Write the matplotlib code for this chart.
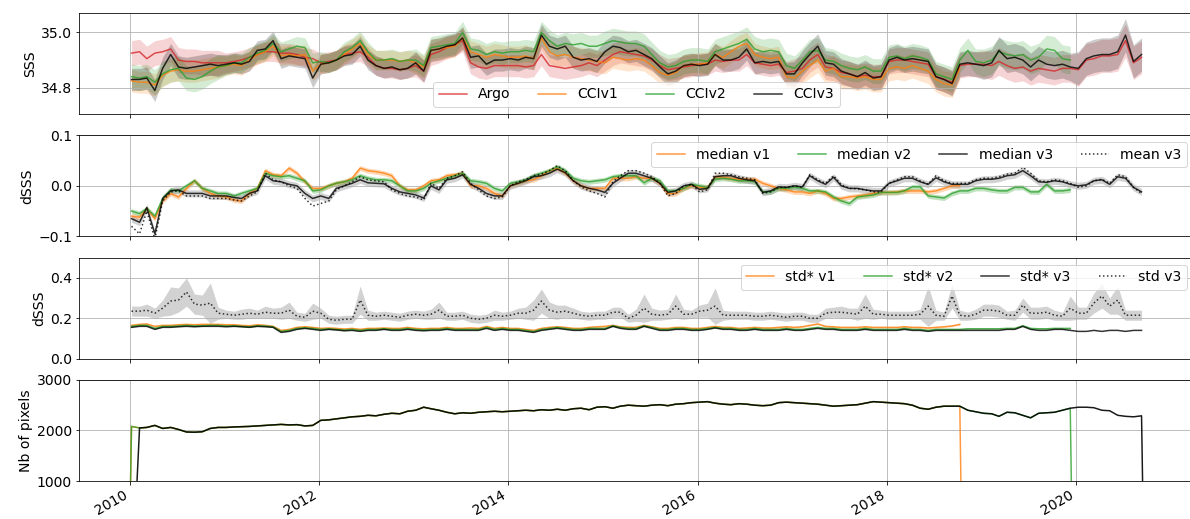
import numpy as np
import pandas as pd
import matplotlib
matplotlib.use("Agg")
from matplotlib import pyplot as plt
import matplotlib.dates as mdates


# monthly sampling, Jan 2010 -> Sep 2020
dates = pd.date_range("2010-01-01", periods=129, freq="MS") + pd.Timedelta(days=7)

# ---- SSS (one row per year) ----
sss_argo = [
    34.925, 34.93, 34.905, 34.925, 34.93, 34.94, 34.9, 34.895, 34.895, 34.89, 34.89, 34.89,
    34.89, 34.895, 34.9, 34.91, 34.92, 34.93, 34.93, 34.925, 34.925, 34.92, 34.91, 34.905,
    34.89, 34.895, 34.9, 34.92, 34.925, 34.93, 34.91, 34.88, 34.87, 34.87, 34.865, 34.87,
    34.88, 34.86, 34.92, 34.93, 34.945, 34.955, 34.97, 34.89, 34.875, 34.87, 34.88, 34.88,
    34.88, 34.88, 34.875, 34.88, 34.92, 34.88, 34.875, 34.87, 34.875, 34.88, 34.89, 34.88,
    34.9, 34.92, 34.93, 34.925, 34.92, 34.915, 34.9, 34.88, 34.865, 34.87, 34.875, 34.88,
    34.885, 34.885, 34.9, 34.895, 34.9, 34.9, 34.92, 34.89, 34.885, 34.88, 34.885, 34.855,
    34.86, 34.87, 34.9, 34.92, 34.875, 34.87, 34.855, 34.85, 34.84, 34.845, 34.84, 34.84,
    34.895, 34.9, 34.9, 34.895, 34.89, 34.885, 34.84, 34.83, 34.82, 34.88, 34.885, 34.885,
    34.885, 34.88, 34.895, 34.88, 34.87, 34.875, 34.86, 34.87, 34.865, 34.86, 34.87, 34.87,
    34.865, 34.9, 34.905, 34.915, 34.915, 34.92, 34.97, 34.89, 34.91,
]
sss_v1 = [
    34.825, 34.82, 34.82, 34.81, 34.845, 34.86, 34.865, 34.86, 34.86, 34.865, 34.87, 34.875,
    34.88, 34.885, 34.88, 34.9, 34.92, 34.93, 34.95, 34.915, 34.92, 34.915, 34.92, 34.86,
    34.885, 34.89, 34.9, 34.92, 34.94, 34.96, 34.92, 34.9, 34.9, 34.9, 34.895, 34.9,
    34.89, 34.875, 34.935, 34.94, 34.945, 34.95, 34.98, 34.93, 34.92, 34.91, 34.92, 34.915,
    34.91, 34.91, 34.915, 34.905, 34.98, 34.93, 34.915, 34.92, 34.91, 34.905, 34.9, 34.895,
    34.89, 34.91, 34.905, 34.9, 34.905, 34.9, 34.88, 34.855, 34.845, 34.855, 34.88, 34.885,
    34.885, 34.89, 34.92, 34.91, 34.93, 34.95, 34.96, 34.92, 34.91, 34.905, 34.91, 34.84,
    34.835, 34.86, 34.88, 34.9, 34.86, 34.87, 34.84, 34.84, 34.835, 34.84, 34.83, 34.83,
    34.87, 34.875, 34.87, 34.88, 34.87, 34.86, 34.83, 34.815, 34.81, 34.87,
]
sss_v2 = [
    34.84, 34.835, 34.84, 34.82, 34.85, 34.865, 34.87, 34.835, 34.83, 34.84, 34.86, 34.875,
    34.88, 34.89, 34.89, 34.91, 34.925, 34.935, 34.96, 34.93, 34.94, 34.95, 34.945, 34.89,
    34.895, 34.89, 34.9, 34.93, 34.945, 34.97, 34.93, 34.9, 34.9, 34.905, 34.895, 34.9,
    34.9, 34.88, 34.945, 34.95, 34.955, 34.96, 35.0, 34.94, 34.935, 34.92, 34.93, 34.925,
    34.93, 34.93, 34.935, 34.93, 35.0, 34.97, 34.95, 34.96, 34.955, 34.96, 34.95, 34.95,
    34.96, 34.97, 34.965, 34.96, 34.96, 34.95, 34.92, 34.89, 34.875, 34.88, 34.895, 34.9,
    34.9, 34.895, 34.93, 34.94, 34.95, 34.96, 34.975, 34.94, 34.93, 34.935, 34.93, 34.88,
    34.87, 34.9, 34.93, 34.935, 34.9, 34.895, 34.88, 34.87, 34.865, 34.875, 34.86, 34.86,
    34.91, 34.915, 34.905, 34.915, 34.91, 34.9, 34.85, 34.84, 34.83, 34.9, 34.935, 34.895,
    34.89, 34.9, 34.93, 34.92, 34.915, 34.92, 34.9, 34.91, 34.94, 34.935, 34.905, 34.9,
]
sss_v3 = [
    34.83, 34.83, 34.835, 34.79, 34.87, 34.92, 34.875, 34.87, 34.875, 34.88, 34.885, 34.88,
    34.885, 34.89, 34.885, 34.895, 34.935, 34.94, 34.97, 34.905, 34.915, 34.91, 34.905, 34.835,
    34.885, 34.89, 34.9, 34.915, 34.92, 34.95, 34.9, 34.88, 34.87, 34.875, 34.865, 34.87,
    34.89, 34.86, 34.935, 34.94, 34.95, 34.955, 34.98, 34.91, 34.915, 34.885, 34.9, 34.9,
    34.905, 34.9, 34.91, 34.905, 34.99, 34.95, 34.94, 34.95, 34.91, 34.9, 34.905, 34.895,
    34.93, 34.95, 34.945, 34.93, 34.935, 34.92, 34.905, 34.875, 34.85, 34.86, 34.88, 34.885,
    34.88, 34.885, 34.92, 34.9, 34.9, 34.91, 34.94, 34.89, 34.895, 34.89, 34.895, 34.85,
    34.85, 34.89, 34.92, 34.95, 34.89, 34.885, 34.86, 34.85, 34.84, 34.855, 34.835, 34.84,
    34.9, 34.91, 34.9, 34.905, 34.9, 34.895, 34.84, 34.83, 34.815, 34.885, 34.89, 34.885,
    34.88, 34.89, 34.935, 34.905, 34.91, 34.9, 34.875, 34.9, 34.885, 34.88, 34.885, 34.875,
    34.87, 34.905, 34.915, 34.92, 34.92, 34.93, 34.99, 34.895, 34.92,
]
# yearly spread of the SSS envelopes (2010, 2011, ...)
sss_spread_argo = [0.045, 0.035, 0.035, 0.04, 0.04, 0.04, 0.04, 0.045, 0.045, 0.05, 0.06]
sss_spread_v1 = [0.04, 0.035, 0.035, 0.04, 0.04, 0.04, 0.04, 0.045, 0.045]
sss_spread_v2 = [0.045, 0.035, 0.035, 0.04, 0.04, 0.045, 0.045, 0.045, 0.045, 0.05]
sss_spread_v3 = [0.04, 0.035, 0.035, 0.04, 0.04, 0.04, 0.04, 0.045, 0.045, 0.05, 0.06]

# ---- dSSS ----
med_v1 = [
    -0.06, -0.062, -0.045, -0.065, -0.03, -0.015, -0.022, -0.005, 0.01, -0.005, -0.015, -0.02,
    -0.022, -0.028, -0.03, -0.015, -0.005, 0.03, 0.022, 0.02, 0.035, 0.025, 0.008, -0.005,
    -0.005, 0.0, 0.005, 0.008, 0.015, 0.035, 0.03, 0.028, 0.025, 0.02, 0.0, -0.008,
    -0.008, 0.0, 0.01, 0.012, 0.02, 0.022, 0.025, 0.0, 0.0, -0.005, -0.015, -0.02,
    0.0, 0.005, 0.01, 0.012, 0.02, 0.03, 0.035, 0.025, 0.01, 0.0, -0.005, -0.005,
    -0.005, 0.015, 0.015, 0.015, 0.018, 0.015, 0.015, 0.005, -0.016, -0.015, -0.005, 0.0,
    -0.003, -0.003, 0.018, 0.017, 0.015, 0.013, 0.013, 0.013, 0.005, 0.0, -0.005, -0.008,
    -0.012, -0.012, -0.015, -0.01, -0.015, -0.025, -0.025, -0.022, -0.02, -0.018, -0.015, -0.013,
    -0.013, -0.012, -0.01, -0.01, -0.01, -0.012, -0.01, -0.005, 0.0, 0.0,
]
med_v2 = [
    -0.05, -0.055, -0.045, -0.06, -0.025, -0.008, -0.01, 0.0, 0.01, -0.005, -0.01, -0.015,
    -0.015, -0.02, -0.015, -0.01, -0.005, 0.025, 0.02, 0.018, 0.02, 0.015, 0.01, -0.01,
    -0.008, 0.0, 0.005, 0.008, 0.012, 0.02, 0.015, 0.012, 0.012, 0.01, 0.0, -0.01,
    -0.01, -0.005, 0.005, 0.01, 0.015, 0.02, 0.025, 0.01, 0.008, 0.005, -0.005, -0.01,
    0.005, 0.008, 0.012, 0.02, 0.025, 0.03, 0.038, 0.03, 0.015, 0.01, 0.008, 0.01,
    0.012, 0.018, 0.02, 0.02, 0.02, 0.006, 0.015, 0.01, -0.01, -0.01, -0.005, 0.003,
    0.0, -0.003, 0.013, 0.015, 0.013, 0.01, 0.01, 0.008, -0.012, -0.012, -0.005, -0.005,
    -0.003, -0.005, -0.01, -0.01, -0.012, -0.022, -0.03, -0.035, -0.022, -0.02, -0.018, -0.013,
    -0.013, -0.013, -0.01, -0.002, -0.002, -0.02, -0.022, -0.024, -0.015, -0.01, -0.01, -0.005,
    -0.005, -0.008, -0.01, -0.01, -0.003, -0.003, -0.012, -0.012, 0.003, -0.01, -0.01, -0.008,
]
med_v3 = [
    -0.065, -0.072, -0.043, -0.095, -0.025, -0.01, -0.008, -0.015, -0.015, -0.015, -0.02, -0.02,
    -0.02, -0.023, -0.025, -0.015, -0.01, 0.02, 0.01, 0.008, 0.003, 0.0, -0.015, -0.025,
    -0.02, -0.025, -0.005, 0.0, 0.005, 0.012, 0.006, 0.005, 0.004, -0.005, -0.012, -0.015,
    -0.018, -0.024, 0.0, -0.008, 0.012, 0.015, 0.022, 0.003, -0.005, -0.015, -0.02, -0.02,
    0.0, 0.005, 0.01, 0.018, 0.02, 0.025, 0.033, 0.026, 0.01, 0.0, -0.005, -0.008,
    -0.013, 0.005, 0.015, 0.025, 0.025, 0.02, 0.015, 0.005, -0.013, -0.01, 0.0, 0.003,
    -0.007, -0.005, 0.018, 0.02, 0.02, 0.015, 0.012, 0.01, -0.013, -0.01, -0.002, -0.003,
    0.0, -0.002, 0.02, 0.01, 0.003, 0.017, 0.0, -0.005, -0.005, -0.008, -0.01, -0.01,
    0.005, 0.01, 0.015, 0.015, 0.008, 0.003, 0.016, 0.008, 0.003, 0.003, 0.003, 0.01,
    0.013, 0.013, 0.015, 0.02, 0.022, 0.03, 0.02, 0.008, 0.007, 0.01, 0.008, 0.003,
    0.0, 0.002, 0.01, 0.012, 0.003, 0.018, 0.015, -0.003, -0.012,
]
mean_v3 = [
    -0.08, -0.095, -0.05, -0.105, -0.03, -0.012, -0.01, -0.02, -0.02, -0.02, -0.025, -0.025,
    -0.025, -0.028, -0.03, -0.02, -0.012, 0.025, 0.012, 0.008, 0.0, -0.005, -0.025, -0.04,
    -0.035, -0.03, -0.008, 0.0, 0.008, 0.018, 0.012, 0.01, 0.008, -0.008, -0.015, -0.02,
    -0.022, -0.028, 0.005, -0.005, 0.015, 0.02, 0.028, 0.005, -0.008, -0.02, -0.025, -0.022,
    0.0, 0.008, 0.012, 0.02, 0.023, 0.03, 0.04, 0.03, 0.01, -0.002, -0.01, -0.015,
    -0.022, 0.008, 0.02, 0.03, 0.03, 0.025, 0.018, 0.005, -0.02, -0.015, 0.0, 0.003,
    -0.012, -0.008, 0.025, 0.025, 0.022, 0.018, 0.015, 0.012, -0.015, -0.012, -0.003, -0.003,
    0.0, -0.003, 0.022, 0.012, 0.005, 0.02, 0.002, -0.005, -0.006, -0.008, -0.012, -0.012,
    0.005, 0.012, 0.018, 0.018, 0.01, 0.003, 0.02, 0.01, 0.005, 0.005, 0.005, 0.012,
    0.015, 0.015, 0.018, 0.023, 0.025, 0.037, 0.025, 0.01, 0.008, 0.012, 0.01, 0.005,
    -0.003, 0.0, 0.01, 0.013, 0.005, 0.022, 0.018, -0.003, -0.015,
]
dsss_spread = {"v1": 0.005, "v2": 0.005, "v3": 0.007}

# ---- std of dSSS ----
std_v1 = [
    0.165, 0.17, 0.172, 0.16, 0.165, 0.165, 0.168, 0.17, 0.168, 0.17, 0.17, 0.17,
    0.168, 0.168, 0.165, 0.163, 0.168, 0.165, 0.16, 0.14, 0.145, 0.155, 0.158, 0.155,
    0.15, 0.152, 0.15, 0.147, 0.15, 0.145, 0.15, 0.15, 0.152, 0.15, 0.15, 0.155,
    0.15, 0.148, 0.15, 0.15, 0.155, 0.15, 0.15, 0.152, 0.15, 0.16, 0.15, 0.155,
    0.15, 0.15, 0.145, 0.14, 0.15, 0.155, 0.158, 0.155, 0.15, 0.15, 0.155, 0.158,
    0.16, 0.165, 0.158, 0.155, 0.155, 0.165, 0.158, 0.15, 0.15, 0.155, 0.155, 0.15,
    0.15, 0.155, 0.16, 0.155, 0.155, 0.15, 0.152, 0.155, 0.152, 0.152, 0.155, 0.158,
    0.155, 0.158, 0.165, 0.172, 0.16, 0.158, 0.155, 0.155, 0.155, 0.158, 0.155, 0.155,
    0.155, 0.155, 0.158, 0.155, 0.155, 0.152, 0.155, 0.158, 0.162, 0.17,
]
std_v2 = [
    0.16, 0.165, 0.165, 0.15, 0.16, 0.16, 0.162, 0.165, 0.162, 0.163, 0.165, 0.165,
    0.162, 0.163, 0.16, 0.158, 0.163, 0.162, 0.158, 0.135, 0.14, 0.15, 0.153, 0.15,
    0.145, 0.148, 0.145, 0.142, 0.145, 0.14, 0.145, 0.145, 0.148, 0.145, 0.145, 0.15,
    0.145, 0.143, 0.145, 0.145, 0.15, 0.145, 0.145, 0.145, 0.145, 0.155, 0.145, 0.15,
    0.145, 0.145, 0.14, 0.135, 0.145, 0.15, 0.155, 0.15, 0.145, 0.145, 0.15, 0.15,
    0.15, 0.163, 0.155, 0.15, 0.15, 0.163, 0.155, 0.145, 0.145, 0.15, 0.15, 0.145,
    0.145, 0.15, 0.155, 0.15, 0.15, 0.145, 0.145, 0.15, 0.145, 0.145, 0.145, 0.15,
    0.145, 0.145, 0.15, 0.155, 0.15, 0.15, 0.145, 0.145, 0.145, 0.15, 0.145, 0.145,
    0.145, 0.145, 0.15, 0.145, 0.145, 0.14, 0.145, 0.145, 0.145, 0.145, 0.148, 0.148,
    0.148, 0.148, 0.148, 0.15, 0.15, 0.163, 0.15, 0.148, 0.148, 0.15, 0.15, 0.15,
]
std_v3 = [
    0.155, 0.16, 0.16, 0.145, 0.155, 0.155, 0.158, 0.16, 0.158, 0.16, 0.16, 0.16,
    0.158, 0.16, 0.158, 0.155, 0.16, 0.158, 0.155, 0.13, 0.135, 0.145, 0.15, 0.145,
    0.14, 0.145, 0.142, 0.138, 0.14, 0.135, 0.14, 0.14, 0.145, 0.14, 0.14, 0.145,
    0.14, 0.138, 0.14, 0.14, 0.145, 0.14, 0.14, 0.14, 0.14, 0.15, 0.14, 0.145,
    0.14, 0.14, 0.135, 0.13, 0.14, 0.145, 0.15, 0.145, 0.14, 0.14, 0.145, 0.145,
    0.145, 0.16, 0.15, 0.145, 0.145, 0.16, 0.15, 0.14, 0.14, 0.145, 0.145, 0.14,
    0.14, 0.145, 0.152, 0.145, 0.145, 0.14, 0.14, 0.145, 0.14, 0.14, 0.14, 0.145,
    0.14, 0.14, 0.145, 0.15, 0.145, 0.145, 0.14, 0.14, 0.14, 0.145, 0.14, 0.14,
    0.14, 0.14, 0.145, 0.14, 0.14, 0.135, 0.14, 0.14, 0.14, 0.14, 0.14, 0.14,
    0.14, 0.14, 0.14, 0.145, 0.145, 0.16, 0.145, 0.14, 0.14, 0.145, 0.145, 0.14,
    0.135, 0.135, 0.14, 0.135, 0.14, 0.14, 0.135, 0.14, 0.14,
]
std_full_v3 = [
    0.235, 0.235, 0.24, 0.225, 0.25, 0.285, 0.29, 0.33, 0.27, 0.265, 0.275, 0.225,
    0.22, 0.215, 0.22, 0.225, 0.22, 0.23, 0.225, 0.225, 0.24, 0.21, 0.205, 0.235,
    0.225, 0.195, 0.19, 0.195, 0.195, 0.29, 0.215, 0.21, 0.215, 0.21, 0.205, 0.215,
    0.22, 0.215, 0.22, 0.24, 0.21, 0.21, 0.215, 0.2, 0.195, 0.2, 0.215, 0.21,
    0.215, 0.225, 0.225, 0.24, 0.285, 0.24, 0.23, 0.235, 0.225, 0.215, 0.21, 0.215,
    0.215, 0.23, 0.23, 0.2, 0.215, 0.25, 0.22, 0.215, 0.22, 0.26, 0.22, 0.22,
    0.235, 0.24, 0.26, 0.215, 0.215, 0.215, 0.215, 0.21, 0.21, 0.215, 0.21, 0.205,
    0.21, 0.21, 0.2, 0.2, 0.225, 0.23, 0.23, 0.225, 0.22, 0.26, 0.22, 0.22,
    0.215, 0.215, 0.215, 0.215, 0.22, 0.26, 0.215, 0.21, 0.31, 0.215, 0.21, 0.22,
    0.24, 0.24, 0.235, 0.215, 0.215, 0.265, 0.225, 0.225, 0.23, 0.215, 0.21, 0.25,
    0.225, 0.225, 0.275, 0.31, 0.26, 0.29, 0.215, 0.215, 0.215,
]
std_full_spread = [
    0.025, 0.025, 0.03, 0.025, 0.04, 0.07, 0.06, 0.07, 0.05, 0.05, 0.1, 0.03,
    0.02, 0.02, 0.025, 0.025, 0.02, 0.03, 0.025, 0.03, 0.04, 0.02, 0.02, 0.04,
    0.025, 0.02, 0.02, 0.02, 0.02, 0.07, 0.025, 0.02, 0.02, 0.02, 0.02, 0.02,
    0.02, 0.02, 0.025, 0.04, 0.02, 0.02, 0.02, 0.02, 0.02, 0.02, 0.025, 0.02,
    0.02, 0.025, 0.03, 0.05, 0.06, 0.04, 0.035, 0.03, 0.025, 0.02, 0.02, 0.02,
    0.02, 0.025, 0.025, 0.02, 0.03, 0.07, 0.03, 0.025, 0.025, 0.06, 0.025, 0.02,
    0.03, 0.035, 0.09, 0.025, 0.02, 0.02, 0.02, 0.02, 0.02, 0.02, 0.02, 0.02,
    0.02, 0.02, 0.02, 0.02, 0.025, 0.025, 0.03, 0.025, 0.03, 0.06, 0.025, 0.02,
    0.02, 0.02, 0.02, 0.02, 0.025, 0.1, 0.025, 0.02, 0.06, 0.025, 0.02, 0.025,
    0.03, 0.03, 0.03, 0.02, 0.025, 0.035, 0.03, 0.03, 0.03, 0.025, 0.02, 0.06,
    0.03, 0.03, 0.05, 0.06, 0.04, 0.07, 0.025, 0.025, 0.025,
]

# ---- number of pixels ----
nb_pixels = [
    2080, 2050, 2060, 2100, 2040, 2060, 2020, 1970, 1965, 1975, 2040, 2060,
    2060, 2070, 2075, 2080, 2090, 2100, 2110, 2120, 2110, 2115, 2090, 2100,
    2200, 2210, 2230, 2250, 2270, 2280, 2300, 2290, 2320, 2340, 2330, 2380,
    2400, 2460, 2430, 2400, 2360, 2330, 2350, 2340, 2360, 2370, 2380, 2370,
    2380, 2390, 2400, 2390, 2410, 2400, 2420, 2400, 2430, 2440, 2410, 2460,
    2470, 2440, 2480, 2500, 2490, 2480, 2500, 2510, 2490, 2520, 2530, 2550,
    2560, 2570, 2540, 2520, 2510, 2530, 2520, 2500, 2490, 2500, 2550, 2560,
    2550, 2540, 2530, 2520, 2500, 2480, 2490, 2500, 2510, 2540, 2570, 2560,
    2550, 2540, 2530, 2500, 2440, 2420, 2460, 2480, 2480, 2480, 2400, 2370,
    2340, 2330, 2280, 2360, 2350, 2300, 2250, 2340, 2350, 2360, 2400, 2440,
    2460, 2460, 2450, 2400, 2390, 2300, 2280, 2270, 2290,
]
# first / last valid month and the dates where the count falls to zero
nb_valid = {"v1": (0, 105), "v2": (0, 119), "v3": (1, 128)}
nb_zero = {"v1": ("2010-01-01", "2018-10-15"),
           "v2": ("2010-01-01", "2019-12-15"),
           "v3": ("2010-01-20", "2020-09-15")}

C_ARGO, C_V1, C_V2, C_V3 = "#d62728", "#ff7f0e", "#2ca02c", "black"

plt.rcParams["font.family"] = "DejaVu Sans"
plt.rcParams["xtick.labelsize"] = 14
plt.rcParams["ytick.labelsize"] = 14
plt.rcParams["axes.labelsize"] = 14
plt.rcParams["legend.fontsize"] = 14

fig, axs = plt.subplots(4, 1, sharex=True, figsize=(1190 / 72, 519 / 72), dpi=72)
fig.subplots_adjust(left=0.0664, right=1.0034, top=0.975, bottom=0.0732, hspace=0.21)


def yearly(spread, n):
    # step the yearly spread over the months
    return np.array([spread[i // 12] for i in range(n)])


def band(ax, values, spread, color, alpha=0.2):
    v = np.array(values, dtype=float)
    s = spread if np.ndim(spread) else np.full(len(v), spread)
    ax.fill_between(dates[:len(v)], v - s, v + s, color=color, alpha=alpha, lw=0)


# SSS
ax = axs[0]
for vals, spr, col, lab in [(sss_argo, sss_spread_argo, C_ARGO, "Argo"),
                            (sss_v1, sss_spread_v1, C_V1, "CCIv1"),
                            (sss_v2, sss_spread_v2, C_V2, "CCIv2"),
                            (sss_v3, sss_spread_v3, C_V3, "CCIv3")]:
    band(ax, vals, yearly(spr, len(vals)), col)
    ax.plot(dates[:len(vals)], vals, color=col, lw=1.5, alpha=0.8, label=lab)
ax.set_ylim(34.705, 35.07)
ax.set_yticks([34.8, 35.0])
ax.set_ylabel("SSS")
ax.legend(loc="lower center", ncol=4)

# dSSS
ax = axs[1]
band(ax, med_v1, dsss_spread["v1"], C_V1, 0.3)
band(ax, med_v2, dsss_spread["v2"], C_V2, 0.3)
band(ax, med_v3, dsss_spread["v3"], "gray", 0.35)
ax.plot(dates[:len(med_v1)], med_v1, color=C_V1, lw=1.5, alpha=0.8, label="median v1")
ax.plot(dates[:len(med_v2)], med_v2, color=C_V2, lw=1.5, alpha=0.8, label="median v2")
ax.plot(dates, med_v3, color=C_V3, lw=1.5, alpha=0.8, label="median v3")
ax.plot(dates, mean_v3, color=C_V3, lw=1.5, ls=":", alpha=0.8, label="mean v3")
ax.set_ylim(-0.1, 0.1)
ax.set_yticks([-0.1, 0.0, 0.1])
ax.set_ylabel("dSSS")
ax.legend(loc="upper right", ncol=4)

# std
ax = axs[2]
band(ax, std_full_v3, np.array(std_full_spread), "gray", 0.35)
band(ax, std_v1, 0.004, C_V1, 0.3)
band(ax, std_v2, 0.004, C_V2, 0.3)
ax.plot(dates[:len(std_v1)], std_v1, color=C_V1, lw=1.5, alpha=0.8, label="std* v1")
ax.plot(dates[:len(std_v2)], std_v2, color=C_V2, lw=1.5, alpha=0.8, label="std* v2")
ax.plot(dates, std_v3, color=C_V3, lw=1.5, alpha=0.8, label="std* v3")
ax.plot(dates, std_full_v3, color=C_V3, lw=1.5, ls=":", alpha=0.8, label="std v3")
ax.set_ylim(0, 0.5)
ax.set_yticks([0.0, 0.2, 0.4])
ax.set_ylabel("dSSS")
ax.legend(loc="upper right", ncol=4)

# number of pixels
ax = axs[3]
for key, col in [("v1", C_V1), ("v2", C_V2), ("v3", C_V3)]:
    i0, i1 = nb_valid[key]
    z0, z1 = nb_zero[key]
    d = [pd.Timestamp(z0)] + list(dates[i0:i1 + 1]) + [pd.Timestamp(z1)]
    v = [0] + nb_pixels[i0:i1 + 1] + [0]
    ax.plot(d, v, color=col, lw=1.5, alpha=0.9 if key == "v3" else 0.8)
ax.set_ylim(1000, 3000)
ax.set_yticks([1000, 2000, 3000])
ax.set_ylabel("Nb of pixels")

for ax in axs:
    ax.grid(True)
axs[3].xaxis.set_major_locator(mdates.YearLocator(2))
axs[3].xaxis.set_major_formatter(mdates.DateFormatter("%Y"))
for lbl in axs[3].get_xticklabels():
    lbl.set_rotation(30)
    lbl.set_ha("right")

fig.savefig("out.png", dpi=72)
